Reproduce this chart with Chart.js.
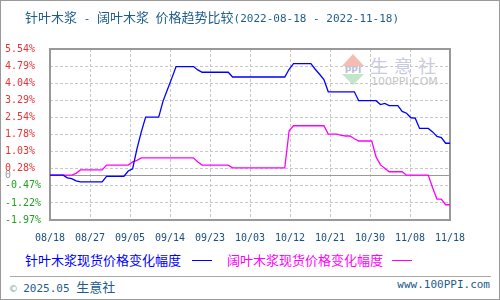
<!DOCTYPE html>
<html>
<head>
<meta charset="utf-8">
<script src="https://cdn.jsdelivr.net/npm/chart.js@4/dist/chart.umd.min.js"></script>
<style>
  body { margin: 0; background: #fff; }
  #wrap { position: relative; width: 500px; height: 300px; overflow: hidden; font-family: "Noto Sans CJK SC", sans-serif; }
  #frame { position: absolute; left: 0; top: 0; width: 500px; height: 300px; box-sizing: border-box; border: 1px solid #9a9a9a; pointer-events: none; z-index: 5; }
  canvas { position: absolute; left: 0; top: 0; z-index: 2; }
  .abs { position: absolute; white-space: nowrap; line-height: 18px; }
  .mono { font-family: "DejaVu Sans Mono", monospace; font-size: 11px; }
  .cjk { font-family: "Noto Sans CJK SC", sans-serif; font-size: 13px; }
  #title { left: 25px; top: 6px; color: #1d5c8b; z-index: 3; }
  .leg { top: 251px; font-size: 13px; }
  .legline { position: absolute; top: 260px; width: 20px; height: 1px; }
  #sep { position: absolute; left: 10px; top: 276px; width: 481px; height: 1px; background: #aaa; }
  #foot { left: 10px; top: 276px; color: #1d5c8b; }
  #site { right: 10px; top: 276px; color: #1d5c8b; }
  #wm { position: absolute; left: 340px; top: 54px; width: 100px; height: 34px; z-index: 1; }
  #wm .up { position: absolute; left: 2px; top: 0; width: 0; height: 0; border-left: 11px solid transparent; border-right: 11px solid transparent; border-bottom: 12px solid #f6bcb4; }
  #wm .down { position: absolute; left: 2px; top: 20px; width: 0; height: 0; border-left: 11px solid transparent; border-right: 11px solid transparent; border-top: 11px solid #c3e6c8; }
  #wm .ppi { position: absolute; left: 0; top: 11px; width: 26px; font: bold 9px "DejaVu Sans", sans-serif; color: #b8bfd8; text-align: center; line-height: 10px; }
  #wm .name { position: absolute; left: 30px; top: 0; white-space: nowrap; font: 18px "Noto Sans CJK SC", sans-serif; letter-spacing: 6px; color: #c9cbe0; line-height: 22px; }
  #wm .url { position: absolute; left: 31px; top: 21px; white-space: nowrap; font: 11px "DejaVu Sans", sans-serif; color: #c4c4c4; line-height: 13px; }
</style>
</head>
<body>
<div id="wrap">
  <div id="wm"><div class="up"></div><div class="ppi">PPI</div><div class="down"></div><div class="name">生意社</div><div class="url">100PPI.COM</div></div>
  <canvas id="chart" width="500" height="300"></canvas>
  <div id="title" class="abs"><span class="cjk">针叶木浆</span><span class="mono"> - </span><span class="cjk">阔叶木浆</span><span class="mono"> </span><span class="cjk">价格趋势比较</span><span class="mono">(2022-08-18 - 2022-11-18)</span></div>
  <div class="abs leg cjk" style="left:25px;color:#0000ff">针叶木浆现货价格变化幅度</div>
  <div class="legline" style="left:192px;background:#0000ff"></div>
  <div class="abs leg cjk" style="left:227px;color:#ff00ff">阔叶木浆现货价格变化幅度</div>
  <div class="legline" style="left:392px;background:#ff00ff"></div>
  <div id="sep"></div>
  <div id="foot" class="abs"><span class="mono" style="color:#8aa">©</span><span class="mono"> 2025.05 </span><span class="cjk">生意社</span></div>
  <div id="site" class="abs mono">www.100PPI.com</div>
  <div id="frame"></div>
</div>
<script>
// x axis tick labels (evenly spaced over the 93 days 08/18 .. 11/18)
const xTickLabels = ['08/18', '08/27', '09/05', '09/14', '09/23', '10/03', '10/12', '10/21', '10/30', '11/08', '11/18']
const yTicks = [-1.97, -1.22, -0.47, 0, 0.28, 1.03, 1.78, 2.54, 3.29, 4.04, 4.79, 5.54]

// daily change in % since 2022-08-18, one value per day
const softwood = [
  0, 0, 0, 0, -0.12, -0.15, -0.25, -0.3, -0.3, -0.3,
  -0.3, -0.3, -0.3, -0.05, -0.05, -0.05, -0.05, -0.05, 0.18, 0.28,
  1.15, 1.9, 2.55, 2.55, 2.55, 2.55, 3.25, 3.75, 4.25, 4.77,
  4.77, 4.77, 4.77, 4.77, 4.62, 4.52, 4.52, 4.52, 4.52, 4.52,
  4.52, 4.52, 4.31, 4.31, 4.31, 4.31, 4.31, 4.31, 4.31, 4.31,
  4.31, 4.31, 4.31, 4.31, 4.31, 4.65, 4.9, 4.9, 4.9, 4.9,
  4.9, 4.65, 4.43, 4.2, 3.66, 3.66, 3.66, 3.66, 3.66, 3.66,
  3.66, 3.27, 3.27, 3.27, 3.27, 3.27, 3.1, 3.15, 3.05, 3.05,
  3.05, 2.8, 2.72, 2.52, 2.5, 2.05, 2.05, 2.05, 1.9, 1.7,
  1.65, 1.4, 1.4
]
const hardwood = [
  0, 0, 0, 0, 0, 0, 0.08, 0.23, 0.23, 0.23,
  0.23, 0.23, 0.23, 0.44, 0.44, 0.44, 0.44, 0.44, 0.44, 0.58,
  0.65, 0.76, 0.76, 0.76, 0.76, 0.76, 0.76, 0.76, 0.76, 0.76,
  0.76, 0.76, 0.76, 0.76, 0.58, 0.44, 0.44, 0.44, 0.44, 0.44,
  0.44, 0.44, 0.32, 0.32, 0.32, 0.32, 0.32, 0.32, 0.32, 0.32,
  0.32, 0.32, 0.32, 0.32, 0.32, 1.95, 2.17, 2.17, 2.17, 2.17,
  2.17, 2.17, 2.17, 2.17, 1.8, 1.8, 1.8, 1.75, 1.72, 1.72,
  1.6, 1.5, 1.5, 1.5, 1.5, 0.8, 0.45, 0.3, 0.15, 0.15,
  0.15, 0.15, 0, 0, 0, 0, 0, 0, -0.55, -1.05,
  -1.05, -1.3, -1.3
]

const plotFrame = {
  id: 'plotFrame',
  beforeDatasetsDraw(chart) {
    const { ctx, chartArea: a, scales: { y } } = chart
    ctx.save()
    ctx.strokeStyle = '#999'
    ctx.lineWidth = 1
    const zy = Math.round(y.getPixelForValue(0)) + 0.5
    ctx.beginPath(); ctx.moveTo(a.left, zy); ctx.lineTo(a.right, zy); ctx.stroke()
    ctx.lineWidth = 2
    ctx.strokeRect(a.left, a.top, a.right - a.left, a.bottom - a.top)
    ctx.restore()
  }
}

const toPoints = arr => arr.map((v, i) => ({ x: i, y: v }))

new Chart(document.getElementById('chart'), {
  type: 'line',
  data: {
    datasets: [
      { data: toPoints(softwood), borderColor: '#0000ff', borderWidth: 1.3, pointRadius: 0, tension: 0 },
      { data: toPoints(hardwood), borderColor: '#ff00ff', borderWidth: 1.3, pointRadius: 0, tension: 0 }
    ]
  },
  options: {
    responsive: false,
    animation: false,
    layout: { padding: { left: 5, right: 50, top: 49, bottom: 55 } },
    plugins: { legend: { display: false }, tooltip: { enabled: false } },
    scales: {
      x: {
        type: 'linear', min: 0, max: softwood.length - 1,
        afterBuildTicks: s => { s.ticks = xTickLabels.map((l, i) => ({ value: i * (softwood.length - 1) / (xTickLabels.length - 1) })) },
        afterFit: s => { s.height = 25 },
        grid: { color: '#c8c8c8', drawTicks: false },
        border: { display: false, dash: [3, 2] },
        ticks: {
          padding: 12, maxRotation: 0, autoSkip: false,
          color: '#1a4f80', font: { family: 'DejaVu Sans Mono', size: 10 },
          callback: (v, i) => xTickLabels[i]
        }
      },
      y: {
        min: yTicks[0], max: yTicks[yTicks.length - 1],
        afterBuildTicks: s => { s.ticks = yTicks.map(v => ({ value: v })) },
        afterFit: s => { s.width = 45 },
        grid: { color: c => (c.tick && c.tick.value === 0) ? 'rgba(0,0,0,0)' : '#c8c8c8', drawTicks: false },
        border: { display: false, dash: [3, 2] },
        ticks: {
          crossAlign: 'far', autoSkip: false,
          font: { family: 'DejaVu Sans Mono', size: 10 },
          color: c => c.tick.value === 0 ? '#999' : (c.tick.value > 0 ? '#ee3333' : '#22a022'),
          callback: v => v === 0 ? '0' : v.toFixed(2) + '%'
        }
      }
    }
  },
  plugins: [plotFrame]
})
</script>
</body>
</html>
